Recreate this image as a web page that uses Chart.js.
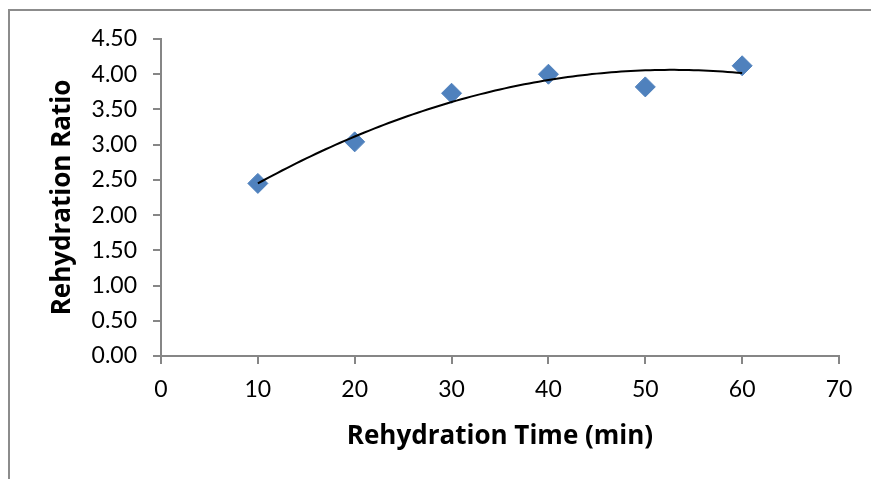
<!DOCTYPE html>
<html>
<head>
<meta charset="utf-8">
<script src="https://cdn.jsdelivr.net/npm/chart.js@4"></script>
<style>
  html, body { margin: 0; padding: 0; background: #fff; }
  #wrap { width: 871px; height: 479px; }
</style>
</head>
<body>
<div id="wrap"><canvas id="myChart" width="871" height="479"></canvas></div>
<script>
// rehydration time (min)
let times = [10, 20, 30, 40, 50, 60];
// rehydration ratio
let ratios = [2.45, 3.04, 3.73, 4.00, 3.82, 4.12];
// axis ticks
let xTicks = [0, 10, 20, 30, 40, 50, 60, 70];
let yTicks = [0, 0.5, 1, 1.5, 2, 2.5, 3, 3.5, 4, 4.5];

// 2nd order polynomial trendline (least squares, like the spreadsheet does)
function polyFit2(xs, ys) {
  let n = xs.length, s = [0, 0, 0, 0, 0], t = [0, 0, 0];
  for (let i = 0; i < n; i++) {
    for (let k = 0; k < 5; k++) s[k] += Math.pow(xs[i], k);
    for (let k = 0; k < 3; k++) t[k] += ys[i] * Math.pow(xs[i], k);
  }
  let m = [[s[0], s[1], s[2], t[0]], [s[1], s[2], s[3], t[1]], [s[2], s[3], s[4], t[2]]];
  for (let i = 0; i < 3; i++) {
    for (let j = i + 1; j < 3; j++) {
      let f = m[j][i] / m[i][i];
      for (let k = i; k < 4; k++) m[j][k] -= f * m[i][k];
    }
  }
  let c = [0, 0, 0];
  for (let i = 2; i >= 0; i--) {
    let v = m[i][3];
    for (let k = i + 1; k < 3; k++) v -= m[i][k] * c[k];
    c[i] = v / m[i][i];
  }
  return c;
}
let coef = polyFit2(times, ratios);
let trend = [];
for (let x = times[0]; x <= times[times.length - 1]; x += 0.5) {
  trend.push({ x: x, y: coef[0] + coef[1] * x + coef[2] * x * x });
}

let axisColor = '#868686';
let tickFont = 'Lato, "Open Sans", sans-serif';
let titleFont = '"Open Sans", Lato, sans-serif';

// grey outer frame of the chart (cut off at right and bottom)
let framePlugin = {
  id: 'frame',
  beforeDraw(chart) {
    let ctx = chart.ctx;
    ctx.save();
    ctx.strokeStyle = '#8c8c8c';
    ctx.lineWidth = 2;
    ctx.beginPath();
    ctx.moveTo(9, 490);
    ctx.lineTo(9, 10);
    ctx.lineTo(880, 10);
    ctx.stroke();
    ctx.restore();
  }
};

new Chart(document.getElementById('myChart').getContext('2d'), {
  type: 'scatter',
  data: {
    datasets: [
      {
        label: 'Rehydration Ratio',
        data: times.map((t, i) => ({ x: t, y: ratios[i] })),
        backgroundColor: '#4F81BD',
        borderColor: '#4F81BD',
        pointStyle: 'rectRot',
        pointRadius: 10,
        pointHoverRadius: 10,
        order: 1
      },
      {
        label: 'Trend',
        data: trend,
        showLine: true,
        borderColor: '#000000',
        borderWidth: 2,
        pointRadius: 0,
        fill: false,
        order: 0
      }
    ]
  },
  options: {
    responsive: false,
    animation: false,
    layout: { padding: { left: 0, right: 32, top: 39, bottom: 0 } },
    plugins: {
      legend: { display: false },
      tooltip: { enabled: false }
    },
    scales: {
      x: {
        type: 'linear',
        min: 0,
        max: 70,
        afterBuildTicks: (s) => { s.ticks = xTicks.map(v => ({ value: v })); },
        afterFit: (s) => { s.height = 479 - 356; },
        grid: { drawOnChartArea: false, tickLength: 8, color: axisColor, tickColor: axisColor, lineWidth: 2 },
        border: { color: axisColor, width: 2 },
        ticks: { color: '#000', font: { family: tickFont, size: 23 }, padding: 12, maxRotation: 0 },
        title: {
          display: true,
          text: 'Rehydration Time (min)',
          color: '#000',
          font: { family: titleFont, size: 26, weight: 'bold' },
          padding: { top: 0, bottom: 27 }
        }
      },
      y: {
        type: 'linear',
        min: 0,
        max: 4.5,
        afterBuildTicks: (s) => { s.ticks = yTicks.map(v => ({ value: v })); },
        afterFit: (s) => { s.width = 161; },
        grid: { drawOnChartArea: false, tickLength: 8, color: axisColor, tickColor: axisColor, lineWidth: 2 },
        border: { color: axisColor, width: 2 },
        ticks: {
          color: '#000',
          font: { family: tickFont, size: 23 },
          padding: 16,
          callback: (v) => Number(v).toFixed(2)
        },
        title: {
          display: true,
          text: 'Rehydration Ratio',
          color: '#000',
          font: { family: titleFont, size: 26, weight: 'bold' },
          padding: { top: 47, bottom: 0 }
        }
      }
    }
  },
  plugins: [framePlugin]
});
</script>
</body>
</html>
